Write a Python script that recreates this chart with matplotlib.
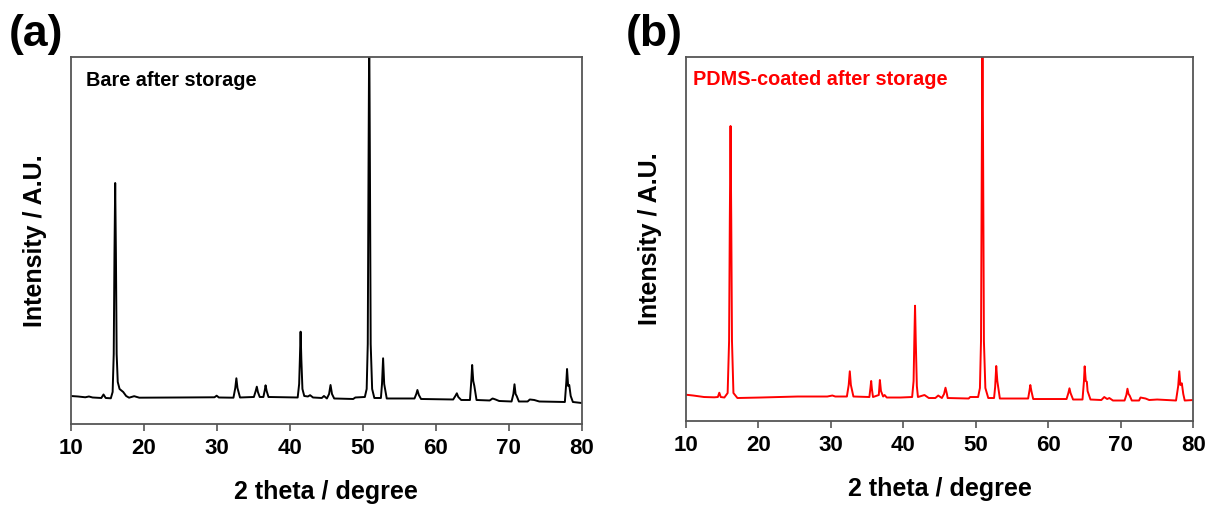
"""XRD patterns after storage: bare (a) vs PDMS-coated (b)."""
import matplotlib
matplotlib.use("Agg")
import matplotlib.pyplot as plt

plt.rcParams["font.family"] = ["Liberation Sans", "DejaVu Sans"]
plt.rcParams["font.weight"] = "bold"

# (a) bare after storage -- 2theta (deg) / intensity (a.u.)
two_theta_a = [
    10.0, 11.0, 12.0, 12.5, 13.0, 14.2, 14.5, 14.8, 15.5, 15.75, 15.9, 16.0, 16.1, 16.2,
    16.3, 16.45, 16.7, 17.2, 17.6, 18.0, 18.7, 19.4, 25.0, 29.7, 30.0, 30.3, 32.3, 32.55,
    32.7, 32.85, 33.2, 35.1, 35.35, 35.5, 35.65, 35.9, 36.4, 36.6, 36.7, 36.85, 37.1, 41.1,
    41.3, 41.4, 41.5, 41.6, 41.75, 42.0, 42.5, 42.8, 43.2, 44.4, 44.7, 45.1, 45.4, 45.6,
    45.8, 46.1, 48.7, 49.0, 50.3, 50.55, 50.7, 50.8, 50.9, 51.0, 51.1, 51.3, 51.6, 52.5,
    52.65, 52.8, 52.95, 53.3, 57.1, 57.35, 57.5, 57.7, 58.0, 62.4, 62.7, 62.9, 63.1, 63.5,
    64.7, 64.9, 65.0, 65.15, 65.3, 65.6, 67.4, 67.8, 68.2, 68.7, 70.4, 70.65, 70.8, 70.95,
    71.1, 71.4, 72.6, 72.9, 73.5, 74.2, 77.7, 77.9, 78.0, 78.15, 78.3, 78.5, 78.8, 80.0,
]
intensity_a = [
    28, 27.5, 26.7, 27.5, 26.5, 26, 29.5, 26, 25.7, 32, 70, 170, 241, 170,
    70, 42, 35, 32, 28, 26.3, 27.8, 26.3, 26.5, 26.7, 28.3, 26.5, 26.3, 36,
    45.7, 36, 26.5, 27, 33, 37.3, 32, 27, 27, 34, 38.7, 33, 27, 26.5,
    40, 65, 92.3, 65, 35, 28, 27.5, 28.8, 26.5, 26, 28, 25.5, 30, 39,
    30, 25.5, 25, 26.5, 27, 35, 80, 250, 400, 250, 80, 35, 26, 26,
    40, 65.7, 40, 25.5, 25.5, 30, 34, 29, 25, 24.5, 28, 30.7, 27, 24,
    24, 45, 59, 43, 38, 24, 23.5, 25.5, 24.5, 23, 22.5, 30, 39.7, 30,
    28, 22.5, 22.5, 24.5, 24, 22.5, 22, 42, 55, 38, 39, 28, 22, 21,
]

# (b) PDMS-coated after storage
two_theta_b = [
    10.0, 11.0, 12.5, 13.9, 14.4, 14.6, 14.8, 15.3, 15.75, 15.95, 16.05, 16.15, 16.25, 16.35,
    16.55, 17.1, 20.3, 25.4, 29.5, 30.2, 30.6, 32.2, 32.45, 32.6, 32.75, 33.1, 35.3, 35.45,
    35.55, 35.65, 35.8, 36.6, 36.75, 36.9, 37.2, 37.4, 37.7, 39.6, 41.2, 41.4, 41.5, 41.6,
    41.7, 41.85, 42.0, 42.9, 43.5, 44.4, 44.8, 45.3, 45.6, 45.8, 46.0, 46.1, 49.0, 49.2,
    50.3, 50.55, 50.7, 50.8, 50.9, 51.0, 51.1, 51.3, 51.7, 52.5, 52.65, 52.8, 52.95, 53.3,
    57.2, 57.4, 57.5, 57.65, 57.9, 62.5, 62.75, 62.9, 63.05, 63.4, 64.7, 64.9, 65.0, 65.15,
    65.3, 65.4, 65.8, 67.3, 67.7, 68.1, 68.4, 68.9, 70.5, 70.75, 70.9, 71.05, 71.2, 71.5,
    72.5, 72.7, 73.4, 73.9, 75.0, 77.6, 77.9, 78.05, 78.2, 78.4, 78.6, 78.8, 80.0,
]
intensity_b = [
    26.3, 25.5, 24, 23.7, 24, 28.3, 24, 23.5, 28, 80, 200, 295, 200, 80,
    28, 23, 23.5, 24.5, 24.5, 25.5, 24.5, 24.5, 36, 49.7, 36, 24.5, 24, 33,
    40, 32, 24, 26, 41, 30, 24.5, 26, 23.5, 23.5, 24, 40, 80, 115.3,
    80, 35, 24, 26, 23, 23, 25.5, 23, 27, 33.3, 27, 23, 22.5, 24,
    24, 33, 80, 250, 400, 250, 80, 33, 23, 23, 34, 55, 40, 22.5,
    22.5, 31, 36, 30, 22, 22, 28, 32.7, 28, 21.5, 21.5, 40, 54.7, 40,
    39.3, 30, 21.5, 21, 24, 22, 23, 20.5, 20.5, 26, 32.3, 27, 25.5, 20.5,
    20.5, 23.5, 22.5, 21, 21.5, 20.5, 35, 49.7, 36, 37.7, 27, 20.5, 21,
]

fig = plt.figure(figsize=(12.1, 5.12), dpi=100)
ax_a = fig.add_axes([0.0584, 0.1719, 0.4223, 0.7168])
ax_b = fig.add_axes([0.5669, 0.1777, 0.4194, 0.7110])


def _panel(ax, x, y, color, note, note_x, ytop):
    ax.plot(x, y, color=color, lw=1.4)
    ax.set_xlim(10, 80)
    ax.set_ylim(0, ytop)
    ax.set_xticks(range(10, 81, 10))
    ax.set_yticks([])
    ax.tick_params(axis="x", direction="out", length=5, width=1.2, color="#555555",
                   pad=5, labelsize=16)
    for s in ax.spines.values():
        s.set_color("#555555")
        s.set_linewidth(1.3)
    ax.set_xlabel("2 theta / degree", fontsize=18, fontweight="bold", labelpad=15)
    ax.set_ylabel("Intensity / A.U.", fontsize=18, fontweight="bold", labelpad=17)
    ax.text(note_x, 0.937, note, transform=ax.transAxes,
            color=color, fontsize=14.3, fontweight="bold", ha="left", va="center")


_panel(ax_a, two_theta_a, intensity_a, "black", "Bare after storage", 0.03, 367)
_panel(ax_b, two_theta_b, intensity_b, "#ff0000", "PDMS-coated after storage", 0.014, 364)

fig.text(0.030, 0.932, "(a)", fontsize=32, fontweight="bold", ha="center", va="center")
fig.text(0.541, 0.932, "(b)", fontsize=32, fontweight="bold", ha="center", va="center")

fig.savefig("out.png", dpi=100)
